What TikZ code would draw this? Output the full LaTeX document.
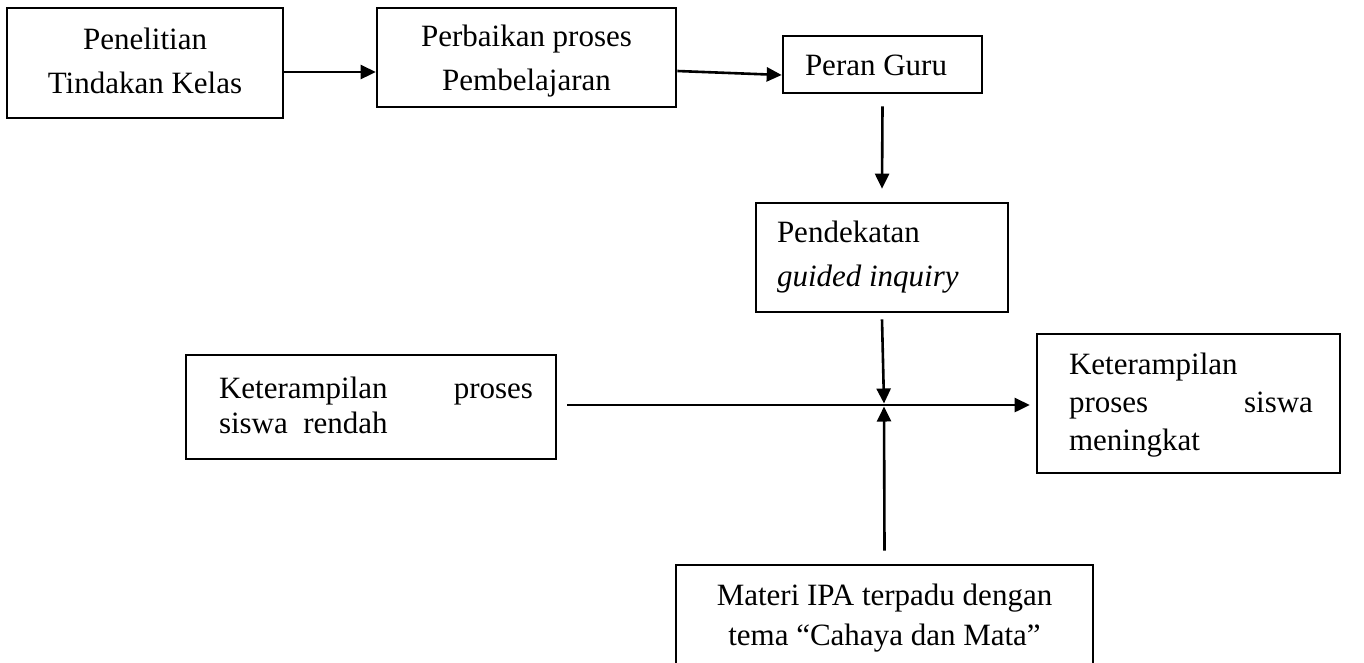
\documentclass[tikz,border=0pt]{standalone}
\usepackage{fontspec}
\setmainfont{Liberation Serif}
\usetikzlibrary{arrows.meta}
\newcommand{\bxtext}[4]{\hspace*{#1}\parbox[c]{#2}{\fontsize{31}{#3}\selectfont #4}}
\tikzset{
  box/.style={draw, line width=2.6pt, inner sep=0pt, anchor=center},
  arr/.style={line width=2.6pt, -{Triangle[length=15pt,width=14pt]}},
}
\begin{document}
\begin{tikzpicture}[x=1pt,y=-1pt]
\clip (0,0) rectangle (1364,662);
\fill[white] (0,0) rectangle (1364,662);

\node[box, minimum width=276pt, minimum height=110pt] (b1) at (145,63)
  {\raisebox{2pt}[\height][\depth]{\bxtext{0pt}{276pt}{44}{\centering Penelitian\\Tindakan Kelas}}};
\node[box, minimum width=299pt, minimum height=99pt] (b2) at (526.5,57.5)
  {\raisebox{-4pt}[\height][\depth]{\bxtext{0pt}{299pt}{44}{\centering Perbaikan proses\\Pembelajaran}}};
\node[box, minimum width=199pt, minimum height=57pt] (b3) at (882.5,64.5)
  {\raisebox{-1pt}[\height][\depth]{\bxtext{22pt}{177pt}{36}{Peran Guru}}};
\node[box, minimum width=252pt, minimum height=109pt] (b4) at (882,257.5)
  {\bxtext{21pt}{231pt}{44}{Pendekatan\\\textit{guided inquiry}}};
\node[box, minimum width=370pt, minimum height=104pt] (b5) at (371,407)
  {\raisebox{2pt}[\height][\depth]{\bxtext{33pt}{337pt}{35}{\makebox[314pt]{Keterampilan\hfill proses}\\siswa\ \ rendah}}};
\node[box, minimum width=303pt, minimum height=139pt] (b6) at (1188.5,403.5)
  {\raisebox{-1.5pt}[\height][\depth]{\bxtext{32pt}{271pt}{38}{Keterampilan\\\makebox[244pt]{proses\hfill siswa}\\meningkat}}};
\node[box, minimum width=417pt, minimum height=102pt] (b7) at (884.5,616)
  {\raisebox{-2pt}[\height][\depth]{\bxtext{0pt}{417pt}{40}{\centering Materi IPA terpadu dengan\\tema “Cahaya dan Mata”}}};

\coordinate (J) at (884,405);
\coordinate (a1s) at ([yshift=-9pt]b1.east);
\coordinate (h0) at ([xshift=10pt]b5.east);
\coordinate (h1) at ([xshift=-6pt]b6.west);

\draw[arr] (a1s) -- (a1s -| b2.west);
\draw[arr] ([yshift=-13.5pt]b2.east) -- ([yshift=-10.5pt]b3.west);
\draw[arr] ([yshift=-12pt]b3.south) -- ([yshift=13pt]b4.north);
\draw[arr] ([yshift=-6pt]b4.south) -- ([yshift=1.5pt]J);
\draw[arr] (h0 |- J) -- (h1 |- J);
\draw[arr] ([yshift=13pt]b7.north) -- ([yshift=-1.5pt]J);
\end{tikzpicture}
\end{document}
